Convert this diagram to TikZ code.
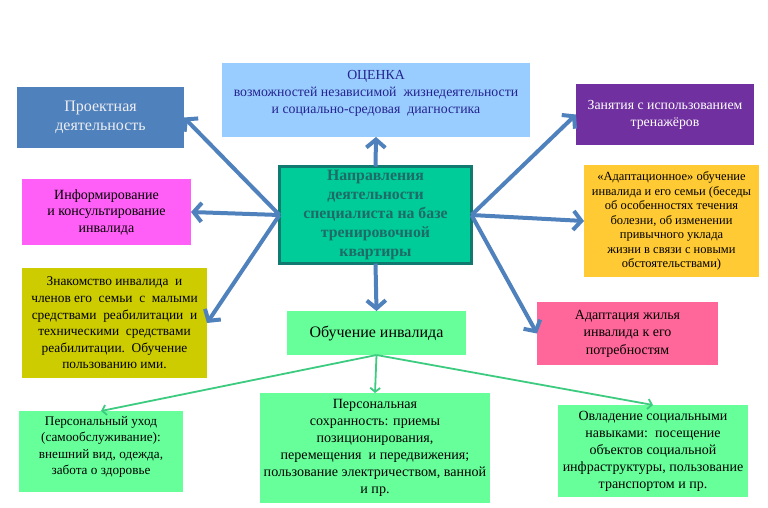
\documentclass[tikz,border=0pt]{standalone}
\usepackage{fontspec}
\setmainfont{Liberation Serif}
\usetikzlibrary{arrows.meta,calc}
\definecolor{cProj}{HTML}{4F81BD}
\definecolor{cProjT}{HTML}{EEEEF2}
\definecolor{cOcen}{HTML}{99CCFF}
\definecolor{cOcenT}{HTML}{24248F}
\definecolor{cZan}{HTML}{7030A0}
\definecolor{cAdapt}{HTML}{FFCA33}
\definecolor{cInf}{HTML}{FF5EF7}
\definecolor{cCen}{HTML}{00CC99}
\definecolor{cCenB}{HTML}{117A70}
\definecolor{cCenT}{HTML}{1F6B66}
\definecolor{cZnak}{HTML}{CCCC00}
\definecolor{cGreen}{HTML}{66FF99}
\definecolor{cPink}{HTML}{FF6699}
\definecolor{cBlueA}{HTML}{4F81BD}
\definecolor{cGreenA}{HTML}{3DCB80}
\begin{document}
\begin{tikzpicture}[x=1pt,y=-1pt,
  box/.style={rectangle,inner sep=0pt,outer sep=0pt,align=center,text=black},
  txt/.style={inner sep=0pt,align=center},
  bluearrow/.style={draw=cBlueA,line width=4pt,-{Straight Barb[length=8pt,width=19pt]}},
  greenarrow/.style={draw=cGreenA,line width=1.8pt,-{Straight Barb[length=4pt,width=10pt]}}]
\useasboundingbox (0,0) rectangle (768,507);
\fill[white] (0,0) rectangle (768,507);

% boxes
\node[box,fill=cProj,text=cProjT,minimum width=167pt,minimum height=61pt,font=\fontsize{16}{19.5}\selectfont] (proj) at (100.5,117.5) {Проектная\\деятельность};
\node[box,fill=cOcen,minimum width=308pt,minimum height=74pt] (ocen) at (376,100) {};
\node[txt,text=cOcenT,font=\fontsize{13.8}{17}\selectfont] (ocentext) at (376,93) {ОЦЕНКА\\возможностей независимой\ \ жизнедеятельности\\и социально-средовая\ \ диагностика};
\node[box,fill=cZan,text=white,minimum width=178pt,minimum height=61pt,font=\fontsize{13.8}{17}\selectfont] (zan) at (665,114.5) {Занятия с использованием\\тренажёров};
\node[box,fill=cAdapt,minimum width=175pt,minimum height=112pt,font=\fontsize{12.5}{14.5}\selectfont] (adapt) at (671.5,221) {«Адаптационное» обучение\\инвалида и его семьи (беседы\\об особенностях течения\\болезни, об изменении\\привычного уклада\\жизни в связи с новыми\\обстоятельствами)};
\node[box,fill=cInf,minimum width=169pt,minimum height=66pt,font=\fontsize{14}{16.5}\selectfont] (inf) at (106.5,212) {Информирование\\и консультирование\\инвалида};
\node[box,fill=cCen,draw=cCenB,line width=3pt,minimum width=192pt,minimum height=97pt,text=cCenT,font=\bfseries\fontsize{15.8}{19.2}\selectfont] (c) at (375.5,215) {Направления\\деятельности\\специалиста на базе\\тренировочной\\квартиры};
\node[box,fill=cZnak,minimum width=185pt,minimum height=110pt,font=\fontsize{13.4}{16.6}\selectfont] (znak) at (114.5,323) {Знакомство инвалида\ \ и\\членов его\ \ семьи\ \ с\ \ малыми\\средствами\ \ реабилитации\ \ и\\техническими\ \ средствами\\реабилитации.\ \ Обучение\\пользованию ими.};
\node[box,fill=cGreen,minimum width=179pt,minimum height=44pt,font=\fontsize{16}{19}\selectfont] (obuch) at (376.5,333) {Обучение инвалида};
\node[box,fill=cPink,minimum width=181pt,minimum height=63pt,font=\fontsize{14}{17.5}\selectfont] (adzh) at (627.5,333.5) {Адаптация\ жилья\\инвалида к его\\потребностям};
\node[box,fill=cGreen,minimum width=164pt,minimum height=81pt] (peruh) at (101,451.5) {};
\node[txt,font=\fontsize{13.2}{16.3}\selectfont] (peruhtext) at (101,447) {Персональный уход\\(самообслуживание):\\внешний вид, одежда,\\забота о здоровье};
\node[box,fill=cGreen,minimum width=230pt,minimum height=110pt,font=\fontsize{14.1}{17}\selectfont] (persoh) at (375,448) {Персональная\\сохранность: приемы\\позиционирования,\\перемещения\ \ и передвижения;\\пользование электричеством,\ ванной\\и пр.};
\node[box,fill=cGreen,minimum width=190pt,minimum height=92pt,font=\fontsize{14}{17}\selectfont] (ovl) at (653,451) {Овладение социальными\\навыками:\ \ посещение\\объектов социальной\\инфраструктуры, пользование\\транспортом и пр.};

% blue arrows
\draw[bluearrow] (c.north) -- (ocen.south);
\draw[bluearrow] (c.west) -- (proj.east);
\draw[bluearrow] (c.west) -- (inf.east);
\draw[bluearrow] (c.west) -- (znak.east);
\draw[bluearrow] (c.east) -- (zan.west);
\draw[bluearrow] (c.east) -- (adapt.west);
\draw[bluearrow] (c.east) -- (adzh.west);
\draw[bluearrow] (c.south) -- (obuch.north);

% green arrows
\draw[greenarrow] (obuch.south) -- (peruh.north);
\draw[greenarrow] (obuch.south) -- (persoh.north);
\draw[greenarrow] (obuch.south) -- (ovl.north);
\end{tikzpicture}
\end{document}
